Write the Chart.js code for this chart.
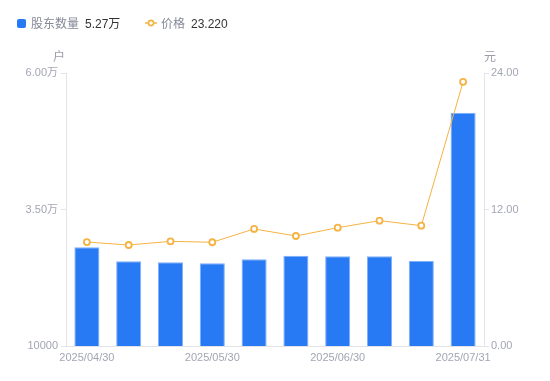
<!DOCTYPE html>
<html>
<head>
<meta charset="utf-8">
<script src="https://cdn.jsdelivr.net/npm/chart.js@4/dist/chart.umd.min.js"></script>
<style>
  html, body { margin: 0; padding: 0; background: #fff; }
  #wrap { position: relative; width: 550px; height: 381px; font-family: "Liberation Sans", "Noto Sans CJK SC", sans-serif; }
  #c { position: absolute; left: 0; top: 0; }
  .lg { position: absolute; top: 17px; font-size: 12px; line-height: 15px; white-space: nowrap; }
  .nm { color: #858997; }
  .vl { color: #333; margin-left: 6px; }
  .sw { display: inline-block; width: 9px; height: 9px; background: #2779f4; border-radius: 2px; vertical-align: -0px; margin-right: 5px; }
  .unit { position: absolute; font-size: 12px; color: #9a9ca8; line-height: 14px; }
</style>
</head>
<body>
<div id="wrap">
  <canvas id="c" width="550" height="381"></canvas>
  <div class="lg" style="left:17px;"><span class="sw"></span><span class="nm">股东数量</span><span class="vl">5.27万</span></div>
  <div class="lg" style="left:145px;"><svg width="12" height="10" style="vertical-align:0px;margin-right:4px"><line x1="0" y1="5" x2="12" y2="5" stroke="#f5b342" stroke-width="1.5"/><circle cx="6" cy="5" r="2.6" fill="#fff" stroke="#f5b342" stroke-width="1.6"/></svg><span class="nm">价格</span><span class="vl">23.220</span></div>
  <div class="unit" style="left:53px; top:50px;">户</div>
  <div class="unit" style="left:484px; top:50px;">元</div>
</div>
<script>
const categories = ["2025/04/30","2025/05/09","2025/05/20","2025/05/30","2025/06/10","2025/06/20","2025/06/30","2025/07/10","2025/07/18","2025/07/31"];
const holders = [28080, 25510, 25330, 25150, 25880, 26540, 26430, 26430, 25570, 52700];
const prices = [9.14, 8.88, 9.20, 9.12, 10.29, 9.67, 10.40, 11.02, 10.58, 23.22];
const xTickLabels = ["2025/04/30","2025/05/30","2025/06/30","2025/07/31"];
const leftTickValues = [10000, 35000, 60000];
const leftTickLabels = ["10000", "3.50万", "6.00万"];
const rightTickValues = [0, 12, 24];
const rightTickLabels = ["0.00", "12.00", "24.00"];

const tickFont = { family: "'Liberation Sans', 'Noto Sans CJK SC', sans-serif", size: 11 };
const tickColor = "#a3a6b3";
const axisColor = "#e3e4ea";

new Chart(document.getElementById('c'), {
  data: {
    labels: categories,
    datasets: [
      {
        type: 'line', label: '价格', data: prices, yAxisID: 'y1', order: 0,
        borderColor: '#f5b342', borderWidth: 1, tension: 0,
        pointRadius: 3, pointBorderWidth: 1.8, pointBackgroundColor: '#fff', pointBorderColor: '#f5b342',
        pointHoverRadius: 3
      },
      {
        type: 'bar', label: '股东数量', data: holders, yAxisID: 'y', order: 1,
        backgroundColor: '#2779f4', borderColor: '#7fb0f8', borderWidth: { top: 1, left: 1, right: 1, bottom: 0 },
        barPercentage: 0.6, categoryPercentage: 1.0
      }
    ]
  },
  options: {
    responsive: false, animation: false,
    layout: { padding: { top: 73, left: 0, right: 0, bottom: 0 } },
    plugins: { legend: { display: false }, tooltip: { enabled: false } },
    scales: {
      x: {
        type: 'category', offset: true,
        grid: { display: false, drawTicks: false },
        border: { display: true, color: axisColor },
        ticks: {
          autoSkip: false, maxRotation: 0, padding: 5, color: tickColor, font: tickFont,
          callback: function(v, i) { const l = categories[i]; return xTickLabels.includes(l) ? l : ''; }
        },
        afterFit: s => { s.height = 35; }
      },
      y: {
        type: 'linear', position: 'left', min: 10000, max: 60000,
        grid: { drawOnChartArea: false, drawTicks: true, tickLength: 5, color: axisColor },
        border: { display: true, color: axisColor },
        afterBuildTicks: s => { s.ticks = leftTickValues.map(v => ({ value: v })); },
        ticks: { padding: 3, color: tickColor, font: tickFont,
          callback: v => leftTickLabels[leftTickValues.indexOf(v)] },
        afterFit: s => { s.width = 66; }
      },
      y1: {
        type: 'linear', position: 'right', min: 0, max: 24,
        grid: { drawOnChartArea: false, drawTicks: true, tickLength: 5, color: axisColor },
        border: { display: true, color: axisColor },
        afterBuildTicks: s => { s.ticks = rightTickValues.map(v => ({ value: v })); },
        ticks: { padding: 2, color: tickColor, font: tickFont,
          callback: v => rightTickLabels[rightTickValues.indexOf(v)] },
        afterFit: s => { s.width = 66; }
      }
    }
  }
});
</script>
</body>
</html>
